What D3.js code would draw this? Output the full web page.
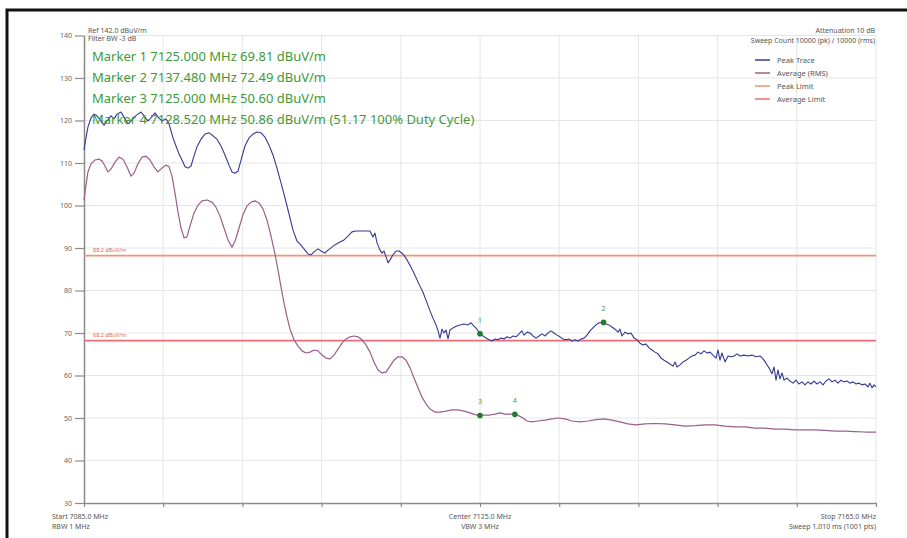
<!DOCTYPE html>
<html>
<head>
<meta charset="utf-8">
<script src="https://cdn.jsdelivr.net/npm/d3@7/dist/d3.min.js"></script>
<style>
  html, body { margin: 0; padding: 0; background: #fff; }
  svg { display: block; font-family: "Noto Sans", "Open Sans", sans-serif; }
</style>
</head>
<body>
<svg id="chart" width="907" height="538"></svg>
<script>
// Spectrum sweep 7085–7165 MHz: peak and RMS-average traces with limits and markers.
const freqStart = 7085, freqStop = 7165;
const yTicks = [30, 40, 50, 60, 70, 80, 90, 100, 110, 120, 130, 140];
const xTicks = [7085, 7093, 7101, 7109, 7117, 7125, 7133, 7141, 7149, 7157, 7165];

const peakFreq = [7085.00,7085.20,7085.40,7085.71,7086.01,7086.31,7086.72,7087.02,7087.32,7087.73,7088.03,7088.33,7088.74,7089.04,7089.44,7089.75,7090.05,7090.45,7090.76,7091.06,7091.46,7091.77,7092.17,7092.47,7092.88,7093.28,7093.59,7093.99,7094.29,7094.60,7094.90,7095.20,7095.51,7095.81,7096.11,7096.41,7096.82,7097.22,7097.63,7098.03,7098.43,7098.84,7099.24,7099.65,7099.95,7100.25,7100.56,7100.86,7101.26,7101.67,7102.07,7102.47,7102.88,7103.28,7103.69,7104.09,7104.49,7104.90,7105.30,7105.71,7106.11,7106.52,7106.82,7107.22,7107.63,7107.93,7108.23,7108.64,7108.94,7109.34,7109.65,7110.05,7110.45,7110.86,7111.26,7111.67,7112.07,7112.47,7112.88,7113.38,7113.89,7114.19,7114.39,7114.60,7114.90,7115.10,7115.30,7115.51,7115.71,7115.91,7116.21,7116.52,7116.82,7117.22,7117.63,7118.03,7118.43,7118.84,7119.24,7119.65,7119.95,7120.25,7120.56,7120.76,7120.96,7121.16,7121.36,7121.57,7121.77,7121.97,7122.27,7122.58,7122.98,7123.38,7123.79,7124.09,7124.39,7124.70,7125.00,7125.30,7125.61,7125.91,7126.21,7126.52,7126.82,7127.12,7127.42,7127.73,7128.03,7128.33,7128.64,7128.94,7129.24,7129.44,7129.75,7130.05,7130.35,7130.66,7130.96,7131.26,7131.57,7131.87,7132.17,7132.47,7132.78,7133.08,7133.38,7133.69,7133.99,7134.29,7134.60,7134.90,7135.20,7135.51,7135.81,7136.11,7136.41,7136.72,7137.02,7137.48,7137.72,7138.03,7138.33,7138.64,7138.94,7139.14,7139.34,7139.65,7139.95,7140.25,7140.56,7140.86,7141.16,7141.46,7141.77,7142.07,7142.37,7142.68,7142.98,7143.28,7143.59,7143.89,7144.19,7144.49,7144.70,7144.90,7145.20,7145.51,7145.81,7146.11,7146.41,7146.72,7147.02,7147.32,7147.63,7147.93,7148.23,7148.54,7148.84,7149.04,7149.24,7149.44,7149.75,7150.05,7150.35,7150.66,7150.96,7151.26,7151.67,7152.07,7152.47,7152.88,7153.28,7153.59,7153.89,7154.19,7154.49,7154.70,7154.90,7155.10,7155.30,7155.51,7155.71,7156.01,7156.31,7156.62,7156.92,7157.22,7157.53,7157.83,7158.13,7158.43,7158.74,7159.04,7159.34,7159.65,7159.95,7160.25,7160.56,7160.86,7161.16,7161.46,7161.77,7162.07,7162.37,7162.68,7162.98,7163.28,7163.59,7163.89,7164.19,7164.39,7164.60,7164.80,7165.00];
const peakLevel = [113.1,115.9,118.5,120.6,121.5,121.1,119.9,118.9,119.9,121.1,120.4,121.5,122.0,120.8,119.2,119.9,120.8,121.5,122.0,121.1,119.9,120.6,121.8,120.8,119.9,120.4,119.2,115.9,114.0,112.1,110.7,109.1,108.8,109.3,111.6,113.8,115.6,116.8,117.1,116.4,115.6,114.0,111.9,109.5,107.9,107.6,108.1,110.7,114.0,115.9,116.8,117.3,117.1,116.1,114.2,111.9,108.8,105.3,101.8,98.0,94.2,91.6,90.9,89.8,88.6,88.4,89.1,89.8,89.3,88.8,89.5,90.2,90.9,91.4,91.9,92.8,93.8,94.0,94.0,94.0,94.0,92.6,93.5,91.2,89.5,88.8,89.3,87.9,86.5,87.2,88.4,89.3,89.3,88.6,87.2,85.5,83.6,81.5,79.6,77.1,75.2,73.5,71.9,70.5,68.8,70.9,70.0,70.7,68.6,70.7,71.2,71.6,71.9,72.1,71.9,72.4,71.6,70.9,69.81,69.3,68.8,68.4,68.1,68.6,68.4,68.8,68.6,69.1,68.8,69.3,69.1,69.8,70.5,69.5,70.2,70.0,69.3,68.8,69.3,69.8,69.3,70.0,70.5,70.0,69.5,69.1,68.6,68.4,68.6,68.1,68.4,68.1,68.6,68.8,69.5,70.5,71.2,71.9,72.4,72.49,72.1,71.9,71.4,70.9,70.2,70.9,69.3,70.2,69.8,70.0,68.8,68.4,67.6,67.2,67.4,66.5,66.0,65.5,65.1,64.1,63.6,63.2,62.7,62.2,63.2,62.0,62.5,63.2,63.6,64.1,64.6,64.8,65.5,65.1,65.8,65.3,65.5,64.8,64.1,66.0,63.6,65.3,63.2,64.6,64.4,64.6,65.1,64.6,64.8,64.6,64.8,64.4,64.6,63.9,62.9,61.8,60.4,62.0,58.9,61.3,59.2,60.6,58.9,59.4,58.7,58.2,58.9,58.0,58.5,57.8,58.5,58.0,58.7,58.0,58.5,57.8,58.7,59.2,58.5,58.9,58.2,58.9,58.5,58.7,58.2,58.5,58.0,58.2,57.8,58.0,57.3,58.2,57.1,57.8,57.3];

const avgFreq = [7085.00,7085.20,7085.40,7085.71,7086.11,7086.52,7086.82,7087.12,7087.42,7087.73,7088.13,7088.54,7088.94,7089.34,7089.75,7090.05,7090.45,7090.86,7091.26,7091.67,7092.07,7092.47,7092.88,7093.28,7093.59,7093.89,7094.19,7094.49,7094.80,7095.10,7095.40,7095.71,7096.11,7096.52,7096.92,7097.42,7097.93,7098.33,7098.74,7099.14,7099.55,7099.95,7100.25,7100.66,7101.06,7101.46,7101.87,7102.27,7102.68,7103.08,7103.48,7103.89,7104.29,7104.60,7104.90,7105.20,7105.51,7105.81,7106.21,7106.62,7107.02,7107.42,7107.83,7108.23,7108.64,7109.04,7109.44,7109.85,7110.25,7110.66,7111.06,7111.46,7111.87,7112.27,7112.68,7113.08,7113.48,7113.89,7114.29,7114.70,7115.10,7115.51,7115.91,7116.31,7116.72,7117.12,7117.53,7117.93,7118.33,7118.74,7119.14,7119.55,7119.95,7120.45,7120.96,7121.57,7122.17,7122.78,7123.38,7123.99,7124.49,7125.00,7125.51,7126.01,7126.52,7127.02,7127.53,7128.03,7128.52,7128.94,7129.34,7129.75,7130.25,7130.86,7131.57,7132.27,7132.88,7133.59,7134.29,7135.10,7135.91,7136.72,7137.53,7138.33,7139.14,7139.95,7140.76,7141.67,7142.68,7143.69,7144.70,7145.71,7146.72,7147.73,7148.74,7149.75,7150.76,7151.77,7152.78,7153.79,7154.80,7155.81,7156.82,7157.83,7158.84,7159.85,7160.86,7161.87,7162.88,7163.89,7165.00];
const avgLevel = [101.3,104.8,107.9,109.8,110.7,110.9,110.5,109.3,107.9,108.6,110.2,111.4,110.9,109.1,106.9,107.6,109.8,111.4,111.6,110.7,109.1,107.9,108.8,109.5,109.1,106.9,102.9,98.5,94.7,92.4,92.6,95.2,98.2,100.1,101.1,101.3,100.8,99.6,97.5,94.7,91.9,90.2,91.6,94.7,97.8,99.9,100.8,101.1,100.6,99.2,96.6,92.8,88.6,84.8,80.8,77.1,73.8,70.9,68.4,66.9,65.8,65.3,65.5,66.0,65.8,64.8,64.1,63.9,64.8,66.2,67.6,68.6,69.1,69.3,69.1,68.4,67.2,65.5,63.2,61.3,60.6,60.8,62.2,63.6,64.4,64.4,63.6,61.8,59.4,57.1,54.9,53.3,52.1,51.4,51.4,51.6,51.9,51.9,51.6,51.2,50.8,50.60,50.7,50.7,50.9,51.2,50.9,50.9,50.86,50.5,50.0,49.3,49.1,49.3,49.5,49.8,50.0,49.8,49.3,49.1,49.3,49.6,49.8,49.5,49.1,48.6,48.4,48.6,48.7,48.6,48.4,48.1,48.2,48.4,48.4,48.1,47.9,47.9,47.6,47.6,47.4,47.4,47.2,47.2,47.2,47.1,46.9,46.9,46.8,46.7,46.7];

const limitNames = ["Peak Limit", "Average Limit"];
const limitLevels = [88.2, 68.2];

const markerIds = ["1", "2", "3", "4"];
const markerFreq = [7125.000, 7137.480, 7125.000, 7128.520];
const markerLevel = [69.81, 72.49, 50.60, 50.86];

const legendNames = ["Peak Trace", "Average (RMS)", "Peak Limit", "Average Limit"];
const colors = {
  "Peak Trace": "#343a8f",
  "Average (RMS)": "#9a5f8c",
  "Peak Limit": "#f19272",
  "Average Limit": "#ee6b78"
};

const svg = d3.select("#chart");
const plotL = 84, plotR = 876, plotT = 35.5, plotB = 503;

const x = d3.scaleLinear().domain([freqStart, freqStop]).range([plotL, plotR]);
const y = d3.scaleLinear().domain([30, 140]).range([plotB, plotT]);

// outer frame
svg.append("rect").attr("x", 7).attr("y", 10).attr("width", 1000).attr("height", 1000)
  .attr("fill", "none").attr("stroke", "#111").attr("stroke-width", 3);

// grid
const grid = svg.append("g");
grid.selectAll("line.h").data(yTicks.slice(1)).join("line")
  .attr("x1", plotL).attr("x2", plotR).attr("y1", d => y(d)).attr("y2", d => y(d))
  .attr("stroke", "#e6e6e6").attr("stroke-width", 1);
grid.selectAll("line.v").data(xTicks.slice(1)).join("line")
  .attr("x1", d => x(d)).attr("x2", d => x(d)).attr("y1", plotT).attr("y2", plotB)
  .attr("stroke", "#e6e6e6").attr("stroke-width", 1);

// axes
const yAxis = svg.append("g").attr("transform", `translate(${plotL},0)`)
  .call(d3.axisLeft(y).tickValues(yTicks).tickSize(9).tickSizeOuter(0).tickPadding(3));
const xAxis = svg.append("g").attr("transform", `translate(0,${plotB})`)
  .call(d3.axisBottom(x).tickValues(xTicks).tickSize(4).tickSizeOuter(0).tickFormat(""));
[yAxis, xAxis].forEach(a => {
  a.select(".domain").attr("stroke", "#8a8a8a").attr("stroke-width", 1.5);
  a.selectAll(".tick line").attr("stroke", "#8a8a8a").attr("stroke-width", 1.2);
  a.selectAll("text").attr("fill", "#666").style("font-size", "7px")
    .style("font-family", "'Noto Sans', sans-serif");
});

// limit lines
limitLevels.forEach((lv, i) => {
  const c = colors[limitNames[i]];
  svg.append("line").attr("x1", plotL).attr("x2", plotR)
    .attr("y1", y(lv)).attr("y2", y(lv)).attr("stroke", c).attr("stroke-width", 1.6);
  svg.append("text").attr("x", plotL + 9).attr("y", y(lv) - 4)
    .attr("fill", "#e2664e").style("font-size", "5.5px").text(`${lv.toFixed(1)} dBuV/m`);
});

// traces
const line = d3.line().x(d => x(d[0])).y(d => y(d[1]));
const avgData = avgFreq.map((f, i) => [f, avgLevel[i]]);
const peakData = peakFreq.map((f, i) => [f, peakLevel[i]]);
svg.append("path").datum(avgData).attr("d", line).attr("fill", "none")
  .attr("stroke", colors["Average (RMS)"]).attr("stroke-width", 1.2).attr("stroke-linejoin", "round");
svg.append("path").datum(peakData).attr("d", line).attr("fill", "none")
  .attr("stroke", colors["Peak Trace"]).attr("stroke-width", 1.1).attr("stroke-linejoin", "round");

// markers
const mk = svg.append("g");
markerIds.forEach((id, i) => {
  const cx = x(markerFreq[i]), cy = y(markerLevel[i]);
  mk.append("circle").attr("cx", cx).attr("cy", cy).attr("r", 2.8).attr("fill", "#1f7a30");
  mk.append("text").attr("x", cx).attr("y", cy - 11).attr("text-anchor", "middle")
    .attr("fill", "#3d9a45").style("font-size", "7px").text(id);
});

// header text
const small = (tx, ty, t, anchor) => svg.append("text").attr("x", tx).attr("y", ty)
  .attr("text-anchor", anchor || "start").attr("fill", "#555").style("font-size", "7px").text(t);
small(88, 33, "Ref 142.0 dBuV/m");
small(88, 41, "Filter BW -3 dB");
small(875, 33, "Attenuation 10 dB", "end");
small(875, 43, "Sweep Count 10000 (pk) / 10000 (rms)", "end");

const markerLines = markerIds.map((id, i) =>
  `Marker ${id} ${markerFreq[i].toFixed(3)} MHz ${markerLevel[i].toFixed(2)} dBuV/m`);
markerLines[3] += " (51.17 100% Duty Cycle)";
markerLines.forEach((t, i) => {
  svg.append("text").attr("x", 92).attr("y", 61 + i * 21)
    .attr("fill", "#3f9a3a").style("font-size", "13px").text(t);
});

// legend
legendNames.forEach((n, i) => {
  const ly = 60 + i * 13;
  svg.append("line").attr("x1", 755).attr("x2", 770).attr("y1", ly).attr("y2", ly)
    .attr("stroke", colors[n]).attr("stroke-width", 1.5);
  svg.append("text").attr("x", 777).attr("y", ly + 2.5).attr("fill", "#555")
    .style("font-size", "7.5px").text(n);
});

// footer text
small(52, 519, "Start 7085.0 MHz");
small(52, 529, "RBW 1 MHz");
small(x(7125), 519, "Center 7125.0 MHz", "middle");
small(x(7125), 529, "VBW 3 MHz", "middle");
small(plotR, 519, "Stop 7165.0 MHz", "end");
small(plotR, 529, "Sweep 1.010 ms (1001 pts)", "end");
</script>
</body>
</html>
